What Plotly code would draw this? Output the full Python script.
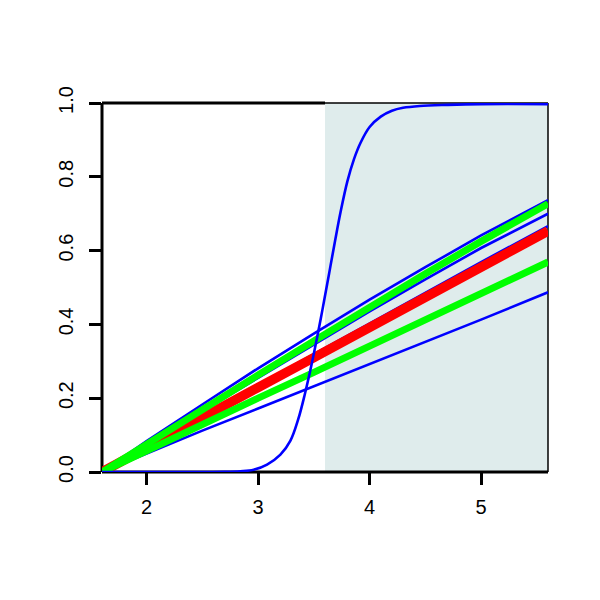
import plotly.graph_objects as go

# x grid at which the nearly-linear curves were read
x_lin = [1.6, 2.0, 2.5, 3.0, 3.5, 4.0, 4.5, 5.0, 5.6]

blue_a = [0, 0.084, 0.183, 0.281, 0.375, 0.467, 0.555, 0.641, 0.737]
blue_b = [0, 0.074, 0.165, 0.255, 0.345, 0.435, 0.522, 0.607, 0.700]
blue_c = [0, 0.069, 0.153, 0.236, 0.319, 0.402, 0.486, 0.569, 0.666]
blue_d = [0, 0.050, 0.112, 0.172, 0.232, 0.292, 0.352, 0.413, 0.487]

green_a = [0, 0.076, 0.170, 0.263, 0.355, 0.447, 0.537, 0.625, 0.727]
green_b = [0, 0.058, 0.130, 0.200, 0.270, 0.340, 0.410, 0.481, 0.569]

red_mid = [0, 0.067, 0.148, 0.229, 0.310, 0.392, 0.474, 0.556, 0.653]

# steep curve, read point by point
x_steep = [1.6, 2.5, 2.7, 2.84, 2.96, 3.08, 3.20, 3.29, 3.36, 3.42, 3.48, 3.53,
           3.576, 3.62, 3.65, 3.69, 3.74, 3.80, 3.86, 3.92, 4.0, 4.1, 4.2, 4.3,
           4.45, 4.7, 5.0, 5.6]
y_steep = [0, 0, 0.0005, 0.002, 0.006, 0.020, 0.047, 0.085, 0.143, 0.212, 0.292, 0.366,
           0.438, 0.510, 0.560, 0.626, 0.705, 0.787, 0.848, 0.893, 0.935, 0.963, 0.979, 0.987,
           0.992, 0.995, 0.997, 0.997]

x_ticks = [2, 3, 4, 5]
y_ticks = [0.0, 0.2, 0.4, 0.6, 0.8, 1.0]
y_tick_text = ["0.0", "0.2", "0.4", "0.6", "0.8", "1.0"]

x_range = [1.6, 5.6]
y_range = [0, 1]
shade_x = [3.6, 5.6]

BLUE = "#0000FF"
GREEN = "#00FF00"
RED = "#FF0000"

fig = go.Figure()
for ys in [blue_a, blue_b, blue_c, blue_d]:
    fig.add_trace(go.Scatter(x=x_lin, y=ys, mode="lines",
                             line=dict(color=BLUE, width=2.6)))
fig.add_trace(go.Scatter(x=x_lin, y=red_mid, mode="lines",
                         line=dict(color=RED, width=9.5)))
for ys in [green_a, green_b]:
    fig.add_trace(go.Scatter(x=x_lin, y=ys, mode="lines",
                             line=dict(color=GREEN, width=7)))
fig.add_trace(go.Scatter(x=x_steep, y=y_steep, mode="lines",
                         line=dict(color=BLUE, width=2.6, shape="spline", smoothing=1.0)))

shapes = [
    dict(type="rect", xref="x", yref="paper", x0=shade_x[0], x1=shade_x[1], y0=0, y1=1,
         fillcolor="#DFECEC", line=dict(width=0), layer="below"),
    dict(type="line", xref="paper", yref="paper", x0=0, x1=0, y0=0, y1=1,
         line=dict(color="black", width=3), layer="below"),
    dict(type="line", xref="paper", yref="paper", x0=0, x1=1, y0=0, y1=0,
         line=dict(color="black", width=3), layer="below"),
    dict(type="line", xref="x", yref="paper", x0=x_range[0], x1=shade_x[0], y0=1, y1=1,
         line=dict(color="black", width=3), layer="below"),
    dict(type="line", xref="x", yref="paper", x0=shade_x[0], x1=x_range[1], y0=1, y1=1,
         line=dict(color="black", width=1.5), layer="below"),
    dict(type="line", xref="paper", yref="paper", x0=1, x1=1, y0=0, y1=1,
         line=dict(color="black", width=1.5), layer="below"),
]

fig.update_layout(
    width=592, height=592,
    margin=dict(l=94, r=52, t=95, b=128, pad=0),
    paper_bgcolor="white", plot_bgcolor="white",
    showlegend=False,
    font=dict(family="Liberation Sans, Arial, sans-serif", size=20, color="black"),
    shapes=shapes,
    xaxis=dict(range=x_range, tickvals=x_ticks, ticktext=[str(v) for v in x_ticks],
               showgrid=False, zeroline=False, showline=False,
               ticks="outside", ticklen=12, tickwidth=2.5, tickcolor="black",
               tickfont=dict(size=20), ticklabelstandoff=5),
    yaxis=dict(range=y_range, tickvals=y_ticks, ticktext=y_tick_text,
               showgrid=False, zeroline=False, showline=False,
               ticks="outside", ticklen=12, tickwidth=2.5, tickcolor="black",
               tickfont=dict(size=20), tickangle=-90, ticklabelstandoff=8),
)

fig.write_html("out.html")
